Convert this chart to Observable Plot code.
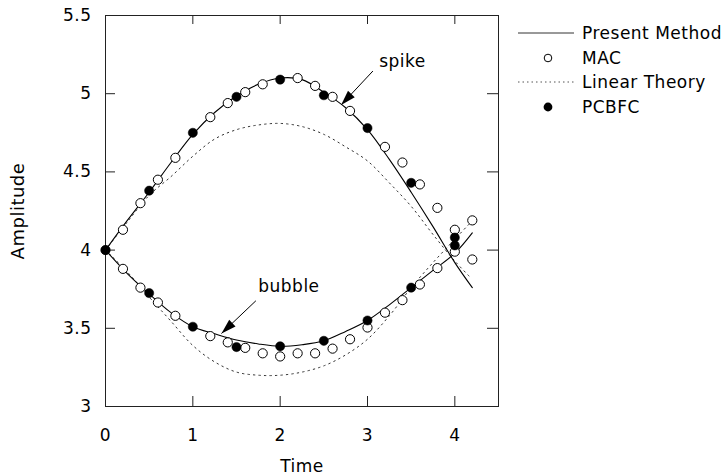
<!DOCTYPE html>
<html>
<head>
<meta charset="utf-8">
<script src="https://cdn.jsdelivr.net/npm/d3@7"></script>
<script src="https://cdn.jsdelivr.net/npm/@observablehq/plot@0.6"></script>
<style>
  body { margin: 0; background: #fff; }
  #wrap { position: relative; width: 725px; height: 476px; font-family: "DejaVu Sans", sans-serif; letter-spacing: 0.5px; }
  #legend { position: absolute; left: 518px; top: 21px; font-size: 17px; color: #000; }
  .row { display: flex; align-items: center; height: 24.6px; }
  .row svg { width: 56px; height: 24px; margin-right: 8px; flex: none; }
</style>
</head>
<body>
<div id="wrap"></div>
<script>
// ---- Data ----
const presentTime   = [0, 0.25, 0.5, 0.75, 1.0, 1.25, 1.5, 1.75, 2.0, 2.25, 2.5, 2.75, 3.0, 3.25, 3.5, 3.75, 4.0, 4.2];
const presentSpike  = [4.0, 4.19, 4.37, 4.56, 4.74, 4.88, 4.985, 5.06, 5.10, 5.09, 5.01, 4.91, 4.77, 4.58, 4.37, 4.15, 3.92, 3.76];
const presentBubble = [4.0, 3.85, 3.72, 3.60, 3.51, 3.465, 3.425, 3.40, 3.385, 3.395, 3.42, 3.48, 3.55, 3.65, 3.76, 3.87, 3.98, 4.11];

const linearTime    = [0, 0.25, 0.5, 0.75, 1.0, 1.25, 1.5, 1.75, 2.0, 2.25, 2.5, 2.75, 3.0, 3.25, 3.5, 3.75, 4.0, 4.17];
const linearSpike   = [4.0, 4.18, 4.35, 4.47, 4.60, 4.71, 4.77, 4.80, 4.81, 4.79, 4.74, 4.66, 4.57, 4.43, 4.28, 4.10, 3.93, 3.83];
const linearBubble  = [4.0, 3.86, 3.70, 3.545, 3.39, 3.285, 3.22, 3.20, 3.20, 3.22, 3.26, 3.33, 3.43, 3.58, 3.76, 3.92, 4.07, 4.17];

const macSpikeTime   = [0.2, 0.4, 0.6, 0.8, 1.2, 1.4, 1.6, 1.8, 2.2, 2.4, 2.6, 2.8, 3.2, 3.4, 3.6, 3.8, 4.0, 4.2];
const macSpike       = [4.13, 4.30, 4.45, 4.59, 4.85, 4.94, 5.01, 5.06, 5.10, 5.05, 4.98, 4.89, 4.66, 4.56, 4.42, 4.27, 4.13, 3.94];
const macBubbleTime  = [0.2, 0.4, 0.6, 0.8, 1.2, 1.4, 1.6, 1.8, 2.0, 2.2, 2.4, 2.6, 2.8, 3.0, 3.2, 3.4, 3.6, 3.8, 4.0, 4.2];
const macBubble      = [3.88, 3.76, 3.665, 3.58, 3.45, 3.41, 3.375, 3.34, 3.32, 3.34, 3.34, 3.37, 3.43, 3.505, 3.60, 3.68, 3.78, 3.885, 3.99, 4.19];

const pcbfcTime   = [0, 0.5, 1.0, 1.5, 2.0, 2.5, 3.0, 3.5, 4.0];
const pcbfcSpike  = [4.0, 4.38, 4.75, 4.98, 5.09, 4.99, 4.78, 4.43, 4.08];
const pcbfcBubble = [4.0, 3.725, 3.51, 3.38, 3.385, 3.42, 3.55, 3.76, 4.03];

const xTicks = [0, 1, 2, 3, 4];
const yTicks = [3, 3.5, 4, 4.5, 5, 5.5];
const innerXTicks = [1, 2, 3, 4];
const innerYTicks = [3.5, 4, 4.5, 5];

const annLabels = ["spike", "bubble"];
const annT = [3.40, 2.10];
const annA = [5.207, 3.768];
const arrowFromT = [3.062, 1.722];
const arrowFromA = [5.145, 3.676];
const arrowToT   = [2.698, 1.328];
const arrowToA   = [4.928, 3.467];

const legendLabels = ["Present Method", "MAC", "Linear Theory", "PCBFC"];

// ---- Build tables ----
const zip = (ts, vs, extra) => ts.map((t, i) => ({t, v: vs[i], ...extra}));
const present = [...zip(presentTime, presentSpike, {s: "spike"}), ...zip(presentTime, presentBubble, {s: "bubble"})];
const linear  = [...zip(linearTime, linearSpike, {s: "spike"}), ...zip(linearTime, linearBubble, {s: "bubble"})];
const mac     = [...zip(macSpikeTime, macSpike), ...zip(macBubbleTime, macBubble)];
const pcbfc   = [...zip(pcbfcTime, pcbfcSpike), ...zip(pcbfcTime, pcbfcBubble)];
const annotations = annLabels.map((label, i) => ({label, t: annT[i], a: annA[i]}));
const arrows = annLabels.map((label, i) => ({t1: arrowFromT[i], a1: arrowFromA[i], t2: arrowToT[i], a2: arrowToA[i]}));

const W = 725, H = 476, ML = 105, MR = 227, MT = 15, MB = 70;
const innerW = W - ML - MR, innerH = H - MT - MB;

const base = {
  width: W, height: H,
  marginLeft: ML, marginRight: MR, marginTop: MT, marginBottom: MB,
  x: {domain: [0, 4.5]},
  y: {domain: [3, 5.5]},
  style: {fontFamily: "DejaVu Sans, sans-serif", fontSize: "17px", letterSpacing: "0.5px", background: "white", color: "black"}
};

// probe the scales to orient the arrowheads along their shafts
const probe = Plot.plot({...base, marks: [Plot.frame()]});
const sx = probe.scale("x"), sy = probe.scale("y");
arrows.forEach(d => {
  const dx = sx.apply(d.t2) - sx.apply(d.t1);
  const dy = sy.apply(d.a2) - sy.apply(d.a1);
  d.angle = Math.atan2(dy, dx) * 180 / Math.PI + 90;
});

const arrowHead = {
  draw(context) {
    context.moveTo(0, 0);
    context.lineTo(-4.6, 15);
    context.lineTo(4.6, 15);
    context.closePath();
  }
};

const chart = Plot.plot({
  ...base,
  marks: [
    Plot.frame({stroke: "#222", strokeWidth: 1}),
    Plot.tickY(innerYTicks, {y: d => d, insetRight: innerW - 10, stroke: "#222"}),
    Plot.tickY(innerYTicks, {y: d => d, insetLeft: innerW - 11, stroke: "#222"}),
    Plot.tickX(innerXTicks, {x: d => d, insetTop: innerH - 10, stroke: "#222"}),
    Plot.tickX(innerXTicks, {x: d => d, insetBottom: innerH - 9, stroke: "#222"}),
    Plot.axisX(xTicks, {tickSize: 0, tickPadding: 22, fontSize: 17, tickFormat: d => String(d),
      label: "Time", labelAnchor: "center", labelArrow: "none", labelOffset: 65}),
    Plot.axisY(yTicks, {tickSize: 0, tickPadding: 14, fontSize: 17, tickFormat: d => String(d),
      label: null}),
    Plot.axisY([], {tickSize: 0, fontSize: 18, label: "Amplitude", labelAnchor: "center", labelArrow: "none", labelOffset: 94}),
    Plot.line(linear, {x: "t", y: "v", z: "s", curve: "catmull-rom", stroke: "#333", strokeWidth: 1, strokeDasharray: "1.5,4"}),
    Plot.line(present, {x: "t", y: "v", z: "s", curve: "catmull-rom", stroke: "#000", strokeWidth: 1.1}),
    Plot.dot(mac, {x: "t", y: "v", r: 4.6, fill: "white", stroke: "black", strokeWidth: 1}),
    Plot.dot(pcbfc, {x: "t", y: "v", r: 4.6, fill: "black", stroke: "black", strokeWidth: 0.5}),
    Plot.link(arrows, {x1: "t1", y1: "a1", x2: "t2", y2: "a2", stroke: "black", strokeWidth: 1}),
    Plot.dot(arrows, {x: "t2", y: "a2", symbol: arrowHead, r: 5, fill: "black", stroke: "none", rotate: "angle"}),
    Plot.text(annotations, {x: "t", y: "a", text: "label", fontSize: 17, textAnchor: "middle", lineAnchor: "middle"})
  ]
});

const wrap = document.getElementById("wrap");
wrap.appendChild(chart);

// ---- Legend (right side) ----
const legend = document.createElement("div");
legend.id = "legend";
const samples = [
  `<line x1="0" x2="56" y1="12" y2="12" stroke="#333" stroke-width="1"/>`,
  `<circle cx="30" cy="12" r="3.8" fill="white" stroke="black" stroke-width="1"/>`,
  `<line x1="0" x2="56" y1="12" y2="12" stroke="#555" stroke-width="1" stroke-dasharray="1.5,3"/>`,
  `<circle cx="30" cy="12" r="4.4" fill="black"/>`
];
legendLabels.forEach((lab, i) => {
  const row = document.createElement("div");
  row.className = "row";
  row.innerHTML = `<svg viewBox="0 0 56 24">${samples[i]}</svg><span>${lab}</span>`;
  legend.appendChild(row);
});
wrap.appendChild(legend);
</script>
</body>
</html>
